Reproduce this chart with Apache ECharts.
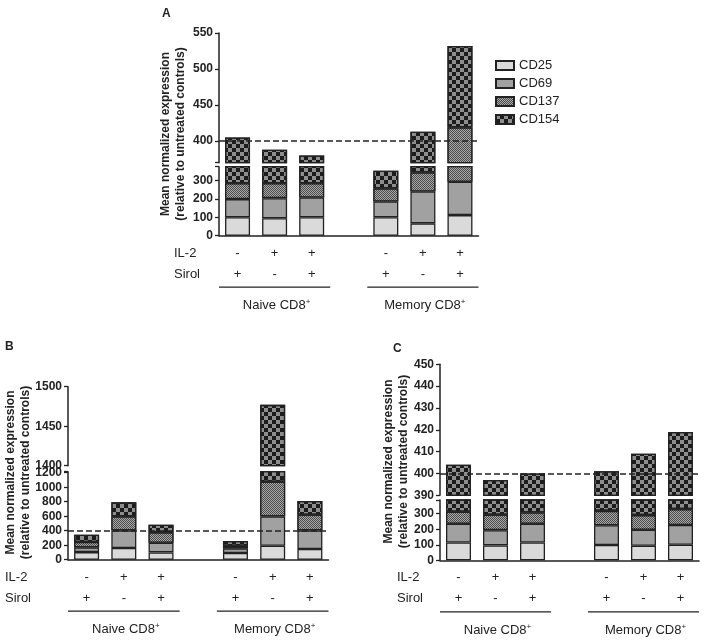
<!DOCTYPE html>
<html><head><meta charset="utf-8">
<script src="https://cdn.jsdelivr.net/npm/echarts@6/dist/echarts.min.js"></script>
<style>html,body{margin:0;padding:0;background:#fff}#c{width:708px;height:641px}</style>
</head><body><div id="c"></div>
<script>
// ---------------- data ----------------
const markers = ['CD25', 'CD69', 'CD137', 'CD154'];
const categories = ['N1', 'N2', 'N3', 'gap', 'M1', 'M2', 'M3'];
const il2 = ['-', '+', '+', '-', '+', '+'];
const sirol = ['+', '-', '+', '+', '-', '+'];
const groupNames = ['Naive CD8', 'Memory CD8'];

// Panel A (segment heights, stacked)
const A_CD25  = [100, 95, 100, 100, 67, 112];
const A_CD69  = [99, 109, 108, 86, 173, 181];
const A_CD137 = [86, 81, 77, 71, 104, 126];
const A_CD154 = [120, 103, 95, 96, 69, 113];
const A_ticksUpper = [400, 450, 500, 550];
const A_ticksLower = [0, 100, 200, 300];

// Panel B
const B_CD25  = [105, 161, 101, 92, 193, 147];
const B_CD69  = [65, 244, 133, 64, 405, 258];
const B_CD137 = [74, 193, 143, 37, 478, 215];
const B_CD154 = [101, 193, 106, 64, 401, 189];
const B_ticksUpper = [1400, 1450, 1500];
const B_ticksLower = [0, 200, 400, 600, 800, 1000, 1200];

// Panel C
const C_CD25  = [115, 96, 115, 98, 94, 100];
const C_CD69  = [120, 98, 120, 128, 103, 127];
const C_CD137 = [77, 99, 73, 92, 94, 102];
const C_CD154 = [92, 104, 92, 83, 118, 90];
const C_ticksUpper = [390, 400, 410, 420, 430, 440, 450];
const C_ticksLower = [0, 100, 200, 300];

const referenceLine = 400;

// ---------------- styles / layout ----------------
const FONT = "'Liberation Sans', Arial, Helvetica, sans-serif";
const INK = '#222';
const styles = {
  CD25:  { color: '#dadada', borderColor: INK, borderWidth: 1.3 },
  CD69:  { color: '#a1a1a1', borderColor: INK, borderWidth: 1.3 },
  CD137: { color: '#4c4c4c', borderColor: INK, borderWidth: 1.3,
           decal: { symbol: 'rect', symbolSize: 1, color: '#a8a8a8', dashArrayX: [[1, 1], [0, 1, 1, 0]], dashArrayY: [1, 0] } },
  CD154: { color: '#8e8e8e', borderColor: INK, borderWidth: 1.3,
           decal: { symbol: 'rect', symbolSize: 1, color: '#1c1c1c', dashArrayX: [[4, 4], [0, 4, 4, 0]], dashArrayY: [4, 0] } }
};

const panels = [
  { key: 'A', data: [A_CD25, A_CD69, A_CD137, A_CD154], left: 219, width: 259.5,
    up: { top: 33, height: 129.7, min: 370, max: 550, labels: A_ticksUpper },
    lo: { top: 166.7, height: 69, min: 0, max: 375, labels: A_ticksLower },
    refIn: 'up', letter: [162, 8], title: [173.5, 134], rowX: 174 },
  { key: 'B', data: [B_CD25, B_CD69, B_CD137, B_CD154], left: 68, width: 260.5,
    up: { top: 386.7, height: 79, min: 1400, max: 1500, labels: B_ticksUpper },
    lo: { top: 471.7, height: 88, min: 0, max: 1214, labels: B_ticksLower },
    refIn: 'lo', letter: [5, 341], title: [18.5, 472.5], rowX: 5 },
  { key: 'C', data: [C_CD25, C_CD69, C_CD137, C_CD154], left: 440, width: 259,
    up: { top: 364.3, height: 131, min: 390, max: 450, labels: C_ticksUpper },
    lo: { top: 500, height: 60.3, min: 0, max: 388, labels: C_ticksLower },
    refIn: 'up', letter: [393, 343], title: [396.5, 461.5], rowX: 397 }
];

function withGap(a) { return [a[0], a[1], a[2], '-', a[3], a[4], a[5]]; }

const grid = [], xAxis = [], yAxis = [], series = [];
panels.forEach(p => {
  ['up', 'lo'].forEach(part => {
    const s = p[part];
    const gi = grid.length;
    grid.push({ left: p.left, width: p.width, top: s.top, height: s.height });
    const isLo = part === 'lo';
    xAxis.push({
      type: 'category', gridIndex: gi, data: categories,
      show: isLo,
      axisLine: { show: isLo, lineStyle: { color: INK, width: 1.5 } },
      axisTick: { show: false },
      axisLabel: {
        show: isLo, interval: 0, margin: 7, fontFamily: FONT, fontSize: 13, color: INK, lineHeight: 21,
        formatter: (v, i) => { if (v === 'gap') return ''; const j = i > 3 ? i - 1 : i; return il2[j] + '\n' + sirol[j]; }
      }
    });
    const tickVals = isLo ? s.labels.concat([s.max]) : [s.min].concat(s.labels.filter(v => v !== s.min));
    yAxis.push({
      type: 'value', gridIndex: gi, min: s.min, max: s.max,
      axisLine: { show: true, lineStyle: { color: INK, width: 1.5 } },
      axisTick: { show: true, length: 4, lineStyle: { color: INK, width: 1.3 }, customValues: tickVals },
      axisLabel: { customValues: s.labels, formatter: v => String(v), fontFamily: FONT, fontWeight: 'bold',
        fontSize: 12, color: INK, margin: 6 },
      splitLine: { show: false }
    });
    markers.forEach((m, mi) => {
      const ser = {
        type: 'bar', name: m, xAxisIndex: gi, yAxisIndex: gi, stack: p.key + part,
        barWidth: 25, data: withGap(p.data[mi]), itemStyle: styles[m],
        emphasis: { disabled: true }, silent: true, animation: false
      };
      if (mi === 3 && p.refIn === part) {
        ser.markLine = {
          silent: true, symbol: 'none', label: { show: false }, animation: false,
          lineStyle: { type: [6, 3], color: INK, width: 1.5 },
          data: [{ yAxis: referenceLine }]
        };
      }
      series.push(ser);
    });
  });
});

const chart = echarts.init(document.getElementById('c'), null, { renderer: 'canvas' });
chart.setOption({
  animation: false,
  grid, xAxis, yAxis, series,
  legend: {
    data: markers, orient: 'vertical', left: 490, top: 54, itemWidth: 18, itemHeight: 9, itemGap: 5,
    icon: 'rect', textStyle: { fontFamily: FONT, fontSize: 13, color: INK }, selectedMode: false
  }
});

// annotations tied to the axes
const graphic = [];
panels.forEach((p, pi) => {
  const xi = pi * 2 + 1;
  const px = i => chart.convertToPixel({ xAxisIndex: xi }, i);
  const y0 = chart.convertToPixel({ yAxisIndex: xi }, 0);
  const slot = px(1) - px(0);
  [[0, 1, 2], [4, 5, 6]].forEach((g, gi) => {
    graphic.push({ type: 'line', silent: true,
      shape: { x1: px(g[0]) - slot / 2, y1: y0 + 51.5, x2: px(g[2]) + slot / 2, y2: y0 + 51.5 },
      style: { stroke: INK, lineWidth: 1.3 } });
    graphic.push({ type: 'text', silent: true, x: px(g[1]) + 2, y: y0 + 70,
      style: { text: '{a|' + groupNames[gi] + '}{s|+}', align: 'center', verticalAlign: 'middle',
        rich: { a: { fontFamily: FONT, fontSize: 13, fill: INK, lineHeight: 16 },
                s: { fontFamily: FONT, fontSize: 8, fill: INK, verticalAlign: 'top', lineHeight: 8 } } } });
  });
  graphic.push({ type: 'text', silent: true, x: p.rowX, y: y0 + 17.6,
    style: { text: 'IL-2', fontFamily: FONT, fontSize: 13, fill: INK, verticalAlign: 'middle' } });
  graphic.push({ type: 'text', silent: true, x: p.rowX, y: y0 + 38.3,
    style: { text: 'Sirol', fontFamily: FONT, fontSize: 13, fill: INK, verticalAlign: 'middle' } });
  graphic.push({ type: 'text', silent: true, x: p.letter[0], y: p.letter[1],
    style: { text: p.key, fontFamily: FONT, fontSize: 12, fontWeight: 'bold', fill: INK } });
  graphic.push({ type: 'text', silent: true, x: p.title[0], y: p.title[1], rotation: Math.PI / 2,
    style: { text: 'Mean normalized expression\n(relative to untreated controls)', fontFamily: FONT, fontSize: 12,
      fontWeight: 'bold', fill: INK, align: 'center', verticalAlign: 'middle', lineHeight: 15 } });
});
chart.setOption({ graphic });
</script></body></html>
